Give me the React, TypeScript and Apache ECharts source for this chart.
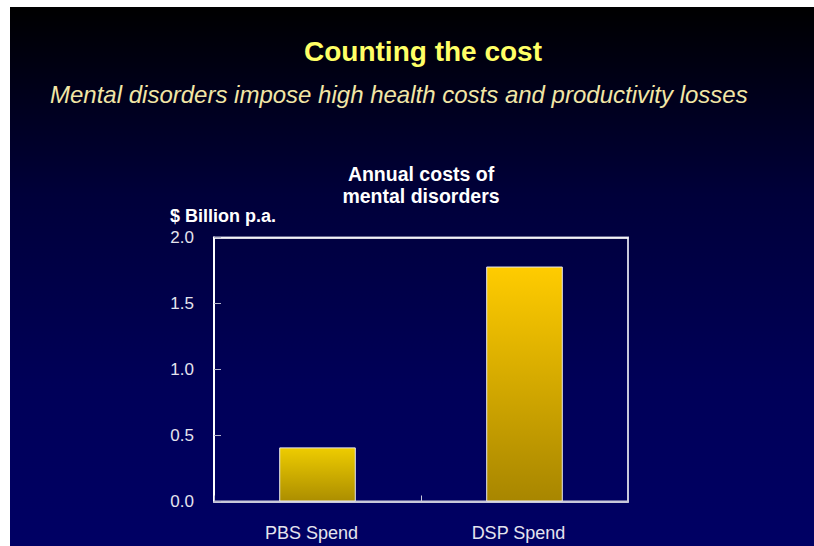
import React, { useEffect, useRef } from "react";
import * as echarts from "echarts";

const categories = ["PBS Spend", "DSP Spend"];
const values = [0.41, 1.78];
const yTicks = [0, 0.5, 1.0, 1.5, 2.0];
const titleText = "Counting the cost";
const subtitleText = "Mental disorders impose high health costs and productivity losses";
const chartTitleLines = ["Annual costs of", "mental disorders"];
const unitText = "$ Billion p.a.";

const FONT = "'Liberation Sans', Arial, Helvetica, sans-serif";

export default function App() {
  const ref = useRef<HTMLDivElement>(null);
  useEffect(() => {
    if (!ref.current) return;
    const chart = echarts.init(ref.current, undefined, { renderer: "svg" });
    const barGradient = (top: string, bottom: string) =>
      new echarts.graphic.LinearGradient(0, 0, 0, 1, [
        { offset: 0, color: top },
        { offset: 1, color: bottom },
      ]);
    const barTops = ["#EECC00", "#FFCC00"];
    const barBottoms = ["#AC8E00", "#A88600"];
    chart.setOption({
      animation: false,
      backgroundColor: new echarts.graphic.LinearGradient(0, 0, 0, 1, [
        { offset: 0, color: "#000000" },
        { offset: 0.35, color: "#00003A" },
        { offset: 0.7, color: "#000058" },
        { offset: 1, color: "#000064" },
      ]),
      textStyle: { fontFamily: FONT },
      graphic: [
        {
          type: "text",
          x: 413,
          y: 44,
          style: {
            text: titleText,
            fill: "#FFFF66",
            font: `bold 28px ${FONT}`,
            textAlign: "center",
            textVerticalAlign: "middle",
          },
        },
        {
          type: "text",
          x: 40,
          y: 87,
          style: {
            text: subtitleText,
            fill: "#F2E6A6",
            font: `italic 24px ${FONT}`,
            textAlign: "left",
            textVerticalAlign: "middle",
          },
        },
        {
          type: "text",
          x: 411,
          y: 167,
          style: {
            text: chartTitleLines[0],
            fill: "#FFFFFF",
            font: `bold 19.5px ${FONT}`,
            textAlign: "center",
            textVerticalAlign: "middle",
          },
        },
        {
          type: "text",
          x: 411,
          y: 189,
          style: {
            text: chartTitleLines[1],
            fill: "#FFFFFF",
            font: `bold 19.5px ${FONT}`,
            textAlign: "center",
            textVerticalAlign: "middle",
          },
        },
        {
          type: "text",
          x: 160,
          y: 209,
          style: {
            text: unitText,
            fill: "#FFFFFF",
            font: `bold 18px ${FONT}`,
            textAlign: "left",
            textVerticalAlign: "middle",
          },
        },
      ],
      grid: {
        left: 204,
        top: 230.5,
        right: 186,
        bottom: 44.5,
        show: true,
        borderColor: "#C8C8DA",
        borderWidth: 2,
        backgroundColor: "transparent",
      },
      xAxis: [
        {
          type: "category",
          data: categories,
          axisLine: { show: true, lineStyle: { color: "#C8C8DA", width: 2 } },
          axisTick: { show: true, inside: true, length: 6, lineStyle: { color: "#C8C8DA", width: 1 } },
          axisLabel: {
            color: "#E4E4EE",
            fontSize: 18,
            fontFamily: FONT,
            margin: 22,
            padding: [0, 12, 0, 0],
          },
          splitLine: { show: false },
        },
        {
          type: "category",
          position: "top",
          data: categories,
          axisLine: { show: true, lineStyle: { color: "#FFFFFF", width: 1.5 } },
          axisTick: { show: false },
          axisLabel: { show: false },
        },
      ],
      yAxis: {
        type: "value",
        min: 0,
        max: 2,
        interval: 0.5,
        axisLine: { show: true, lineStyle: { color: "#FFFFFF", width: 2 } },
        axisTick: { show: true, inside: true, length: 7, lineStyle: { color: "#B8B8CC", width: 1 } },
        axisLabel: {
          color: "#E4E4EE",
          fontSize: 17,
          fontFamily: FONT,
          margin: 20,
          padding: [6, 0, 0, 0],
          formatter: (v: number) => (yTicks.includes(v) ? v.toFixed(1) : ""),
        },
        splitLine: { show: false },
      },
      series: [
        {
          type: "bar",
          data: values.map((v, i) => ({
            value: v,
            itemStyle: {
              color: barGradient(barTops[i], barBottoms[i]),
              borderColor: "#E8E8F0",
              borderWidth: 1,
            },
          })),
          barWidth: "37%",
        },
      ],
    });
    return () => chart.dispose();
  }, []);
  return (
    <div
      ref={ref}
      style={{ position: "fixed", left: 10, top: 7, width: 804, height: 539 }}
    />
  );
}
